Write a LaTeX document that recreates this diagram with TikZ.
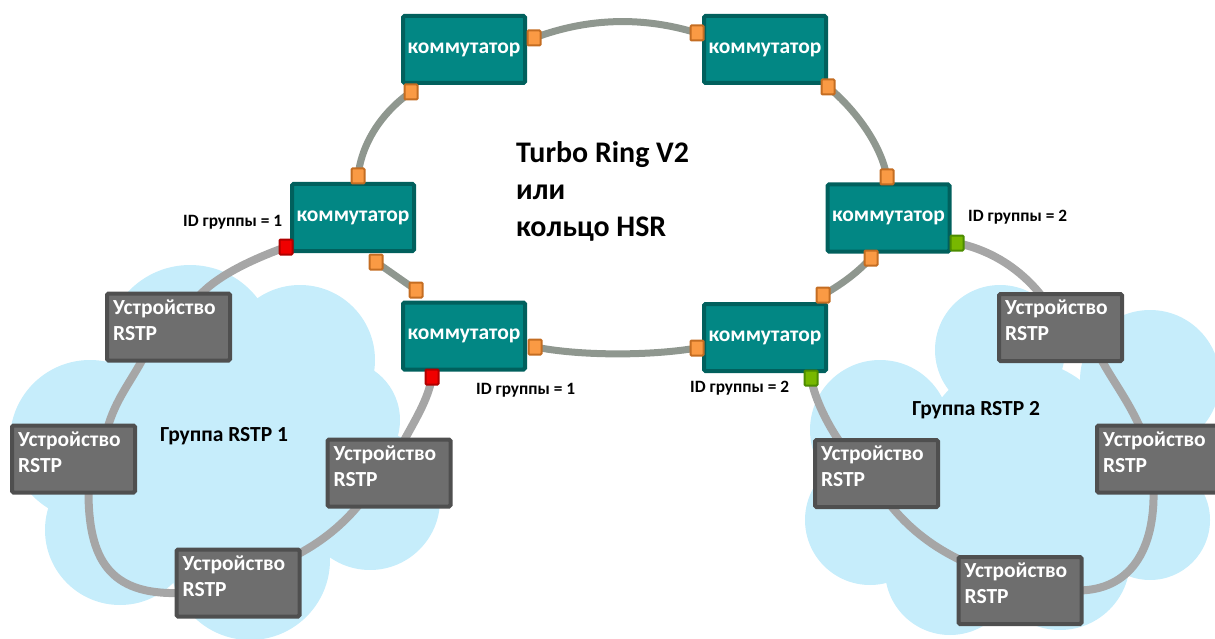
\documentclass[tikz,border=0pt]{standalone}
\usepackage{fontspec}
\setmainfont{Carlito}
\usetikzlibrary{calc}
\definecolor{swfill}{HTML}{028784}
\definecolor{swborder}{HTML}{01605D}
\definecolor{devfill}{HTML}{6E6E6E}
\definecolor{devborder}{HTML}{4F4F4F}
\definecolor{cloudc}{HTML}{C6EDFB}
\definecolor{ringc}{HTML}{8F978F}
\definecolor{linkc}{HTML}{A6A6A6}
\definecolor{ofill}{HTML}{FA9A44}
\definecolor{oborder}{HTML}{C46D22}
\definecolor{rfill}{HTML}{F00000}
\definecolor{rborder}{HTML}{B00000}
\definecolor{gfill}{HTML}{78B800}
\definecolor{gborder}{HTML}{4C8C00}
\pgfdeclarelayer{cloudlayer}
\pgfdeclarelayer{linklayer}
\pgfsetlayers{cloudlayer,linklayer,main}
\begin{document}
\begin{tikzpicture}[x=1pt,y=-1pt,
  sw/.style={draw=swborder, fill=swfill, line width=4pt, minimum width=122pt, minimum height=67pt, inner sep=0pt, rounded corners=1.5pt, text=white, font=\fontsize{21.5}{24}\selectfont\bfseries},
  dev/.style={draw=devborder, fill=devfill, line width=4pt, minimum width=123pt, minimum height=67pt, inner sep=0pt, rounded corners=1.5pt},
  devtext/.style={anchor=north west, inner sep=0pt, align=left, text=white, font=\fontsize{21.5}{26}\selectfont\bfseries},
  port/.style={line width=2pt, minimum width=13pt, minimum height=15pt, inner sep=0pt, rounded corners=1pt},
  oport/.style={port, draw=oborder, fill=ofill},
  rport/.style={port, draw=rborder, fill=rfill},
  gport/.style={port, draw=gborder, fill=gfill},
  ring/.style={draw=ringc, line width=7pt},
  dlink/.style={draw=linkc, line width=8pt},
  idlbl/.style={anchor=west, inner sep=0pt, font=\fontsize{17.3}{20}\selectfont\bfseries},
  grplbl/.style={anchor=west, inner sep=0pt, font=\fontsize{21.5}{24}\selectfont\bfseries},
  titlelbl/.style={anchor=north west, inner sep=0pt, align=left, font=\fontsize{29.9}{37}\selectfont\bfseries},
  cloud/.style={fill=cloudc}
]
\useasboundingbox (0,0) rectangle (1215,639);
% switches
\node[sw] (s1) at (464,49.5) {\raisebox{3pt}{коммутатор}};
\node[sw] (s2) at (765,49.5) {\raisebox{2pt}{коммутатор}};
\node[sw] (s3) at (353,217.5) {коммутатор};
\node[sw] (s4) at (888.5,218) {коммутатор};
\node[sw] (s5) at (464,336) {коммутатор};
\node[sw] (s6) at (765,337.5) {коммутатор};
% devices
\node[dev] (d1) at (168.5,327) {};
\node[dev] (d2) at (73.5,459) {};
\node[dev] (d3) at (238,583) {};
\node[dev] (d4) at (389,473) {};
\node[dev] (d5) at (1060.5,327.5) {};
\node[dev] (d6) at (1158.5,459) {};
\node[dev] (d7) at (876.5,473.5) {};
\node[dev] (d8) at (1020,590.5) {};
\foreach \d in {d1,d2,d3,d4,d5,d6,d7,d8}
  \node[devtext] (\d t) at ($(\d.north west)+(8,8)$) {Устройство\\RSTP};
% ports
\node[oport] (p1r) at (534,38) {};
\node[oport] (p1b) at (411,92) {};
\node[oport] (p2l) at (697,33) {};
\node[oport] (p2b) at (828,87) {};
\node[oport] (p3t) at (358,176) {};
\node[oport] (p3b) at (376,262) {};
\node[rport] (p3r) at (286,247) {};
\node[oport] (p4t) at (887,177) {};
\node[oport] (p4b) at (871,258) {};
\node[gport] (p4g) at (957,243) {};
\node[oport] (p5t) at (416,290) {};
\node[oport] (p5r) at (535,347) {};
\node[rport] (p5b) at (432,377) {};
\node[oport] (p6l) at (697,348) {};
\node[oport] (p6t) at (823,295) {};
\node[gport] (p6g) at (811,378) {};
% labels
\node[idlbl] (id3) at (183,222) {ID группы = 1};
\node[idlbl] (id5) at (476,390) {ID группы = 1};
\node[idlbl] (id6) at (690,388) {ID группы = 2};
\node[idlbl] (id4) at (968,217) {ID группы = 2};
\node[grplbl] (g1) at (160,436) {Группа RSTP 1};
\node[grplbl] (g2) at (912,410) {Группа RSTP 2};
\node[titlelbl] (title) at (516,141) {Turbo Ring V2\\или\\кольцо HSR};
% ring links
\begin{pgfonlayer}{linklayer}
\draw[ring] (p1r.center) .. controls (590,17) and (645,17) .. (p2l.center);
\draw[ring] (p2b.center) .. controls (850,105) and (880,140) .. (p4t.center);
\draw[ring] (p4b.center) .. controls (855,275) and (840,285) .. (p6t.center);
\draw[ring] (p6l.center) .. controls (650,356) and (580,356) .. (p5r.center);
\draw[ring] (p5t.center) -- (p3b.center);
\draw[ring] (p3t.center) .. controls (362,140) and (385,110) .. (p1b.center);
% device links
\draw[dlink] (p3r.center) .. controls (245,262) and (215,278) .. ($(d1.north)+(30,5)$);
\draw[dlink] ($(d1.south)+(-25,-5)$) .. controls (132,380) and (115,400) .. ($(d2.north)+(34,5)$);
\draw[dlink] ($(d2.south)+(15,-5)$) .. controls (88,560) and (110,595) .. ($(d3.west)+(5,10)$);
\draw[dlink] ($(d3.east)+(-5,-28)$) .. controls (325,540) and (345,522) .. ($(d4.south)+(-29,-5)$);
\draw[dlink] ($(d4.north)+(14,5)$) .. controls (415,420) and (428,400) .. (p5b.center);
\draw[dlink] (p6g.center) .. controls (815,400) and (828,425) .. ($(d7.north)+(-36,5)$);
\draw[dlink] ($(d7.south)+(13,-5)$) .. controls (910,530) and (935,548) .. ($(d8.west)+(5,-30)$);
\draw[dlink] ($(d8.east)+(-5,0)$) .. controls (1130,590) and (1155,550) .. ($(d6.south)+(-5,-5)$);
\draw[dlink] ($(d6.north)+(-18,5)$) .. controls (1128,400) and (1112,380) .. ($(d5.south)+(40,-5)$);
\draw[dlink] ($(d5.north)+(-18,5)$) .. controls (1020,268) and (990,250) .. (p4g.center);
\end{pgfonlayer}
% clouds
\begin{pgfonlayer}{cloudlayer}
\fill[cloud] (190,350) circle (85pt);
\fill[cloud] (300,360) circle (75pt);
\fill[cloud] (90,440) circle (80pt);
\fill[cloud] (120,530) circle (75pt);
\fill[cloud] (250,560) circle (80pt);
\fill[cloud] (370,500) circle (70pt);
\fill[cloud] (340,420) circle (60pt);
\fill[cloud] (240,450) circle (100pt);
\fill[cloud] (1000,350) circle (65pt);
\fill[cloud] (880,430) circle (70pt);
\fill[cloud] (870,520) circle (65pt);
\fill[cloud] (950,570) circle (65pt);
\fill[cloud] (1060,560) circle (70pt);
\fill[cloud] (1150,380) circle (70pt);
\fill[cloud] (1150,520) circle (60pt);
\fill[cloud] (1020,460) circle (100pt);
\end{pgfonlayer}
\end{tikzpicture}
\end{document}
